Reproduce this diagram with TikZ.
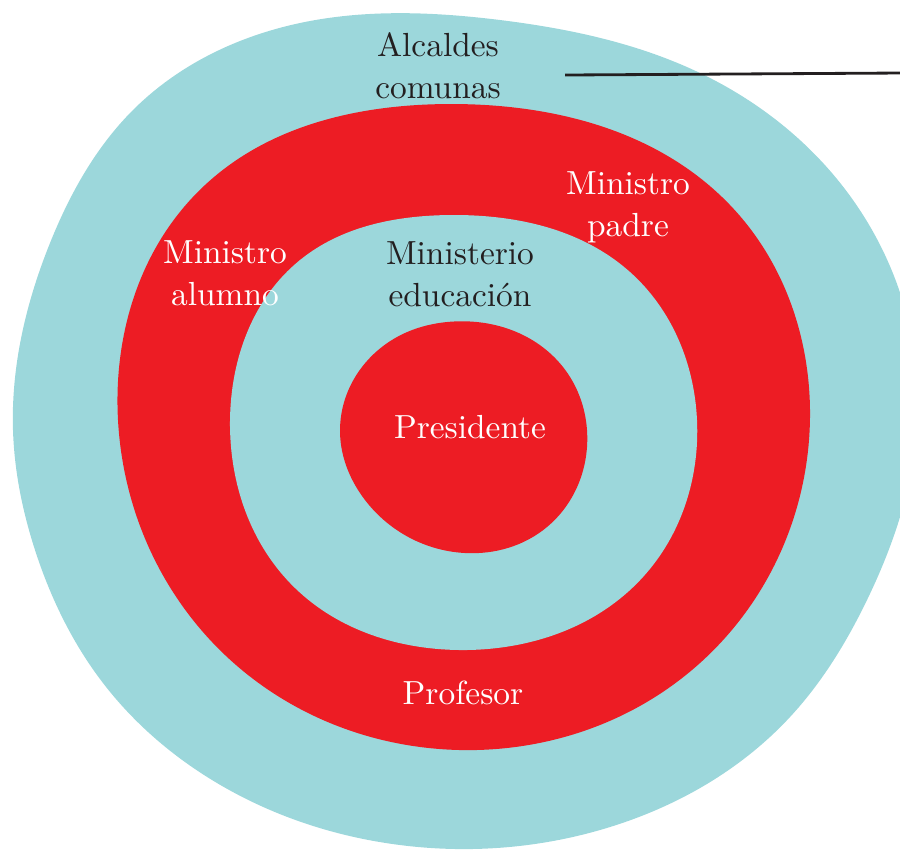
\documentclass[tikz,border=0pt]{standalone}
\usepackage{tikz}
\usetikzlibrary{positioning,hobby}
\definecolor{agua}{HTML}{9CD7DB}
\definecolor{rojo}{HTML}{ED1C24}
\definecolor{tinta}{HTML}{231F20}
\tikzset{
  anillo/.style = {fill=#1, draw=none},
  rotulo/.style = {align=center, inner sep=0pt, font=\fontsize{9.5}{11.9}\selectfont},
}

\begin{document}
\begin{tikzpicture}[
			x = 0.01cm, y = -0.01cm,
			every node/.style = {scale = 1},
			]

			\useasboundingbox (0,0) rectangle (900,850);
			\clip (0,0) rectangle (900,850);

			% capa exterior
			\path[anillo=agua] plot[closed hobby] coordinates {
				(13,430) (35,550) (103,683) (217,783) (400,845) (610,827)
				(790,717) (867,600) (918,410) (853,200) (700,73) (500,20)
				(300,23) (133,110) (50,243)};

			% segundo anillo
			\path[anillo=rojo] plot[closed hobby] coordinates {
				(118,420) (205,185) (450,104) (730,205)
				(810,410) (700,663) (460,750) (225,655)};

			% tercer anillo
			\path[anillo=agua] plot[closed hobby] coordinates {
				(230,420) (300,260) (450,215) (630,272)
				(697,420) (643,577) (460,650) (295,588)};

			% centro
			\path[anillo=rojo] plot[closed hobby] coordinates {
				(447,322) (563,367) (587,430) (547,527)
				(465,553) (360,493) (340,430) (397,337)};

			\node[rotulo, text=tinta] (alcaldes) at (438,66) {Alcaldes\\comunas};
			\node[rotulo, text=white] (padre) at (628,207) {Ministro\\padre};
			\node[rotulo, text=white] (alumno) at (225,273) {Ministro\\alumno};
			\node[rotulo, text=tinta] (ministerio) at (460,274) {Ministerio\\educaci\'on};
			\node[rotulo, text=white] (presidente) at (470,427) {Presidente};
			\node[rotulo, text=white] (profesor) at (463,693) {Profesor};

			\coordinate (inicio) at (565,75);
			\coordinate (borde) at (900,73);
			\draw[tinta, line width=0.8pt] (inicio) -- (borde);

		\end{tikzpicture}
\end{document}
